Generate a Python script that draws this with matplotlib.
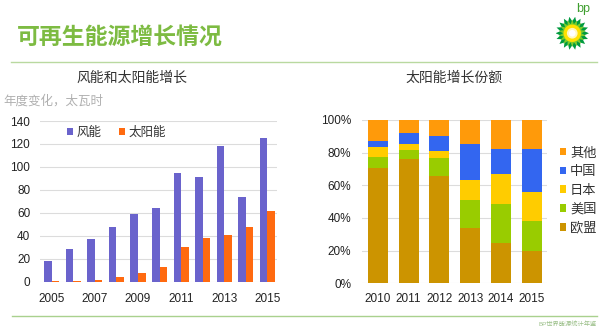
import numpy as np
import matplotlib
matplotlib.use("Agg")
import matplotlib.pyplot as plt
from matplotlib.patches import Polygon, Circle
from matplotlib.ticker import FuncFormatter

plt.rcParams['font.family'] = ['Liberation Sans', 'Noto Sans CJK SC', 'DejaVu Sans']

# ---- data ----
years_left = [2005, 2006, 2007, 2008, 2009, 2010, 2011, 2012, 2013, 2014, 2015]
wind = [18, 28.5, 37.5, 48, 59, 64, 95, 91, 118, 73.5, 125]
solar = [1, 1, 1.5, 4.5, 8, 12.5, 30, 38, 40.5, 48, 62]
left_xticklabels = ['2005', '2007', '2009', '2011', '2013', '2015']

years_right = ['2010', '2011', '2012', '2013', '2014', '2015']
share_eu = [70.5, 76, 65.5, 34, 24.5, 19.5]
share_us = [7, 5.5, 11, 17, 24, 18.5]
share_jp = [6, 4, 4.5, 12, 18.5, 18]
share_cn = [3.5, 6.5, 9.5, 22, 15.5, 26]
share_other = [13, 8, 9.5, 15, 17.5, 18]

W, H = 600, 331
fig = plt.figure(figsize=(6, 3.31), dpi=100)
fig.patch.set_facecolor('white')

def fx(px):
    return px / W

def fy(py):
    return 1 - py / H

# header
fig.text(fx(17), fy(37), '可再生能源增长情况', color='#7dbb42', fontsize=16.5,
         fontweight='bold', va='center', ha='left')
fig.add_artist(plt.Line2D([fx(11), fx(597)], [fy(61.5), fy(61.5)], color='#b9d9a0', lw=1.0))
fig.add_artist(plt.Line2D([fx(12), fx(597)], [fy(315.5), fy(315.5)], color='#a9d18e', lw=1.0))
fig.text(fx(597), fy(324), 'BP世界能源统计年鉴', color='#9cc08a', fontsize=4.5,
         ha='right', va='center')
fig.text(fx(583), fy(9), 'bp', color='#3f9f2f', fontsize=9, ha='center', va='center')

# bp logo
lax = fig.add_axes([fx(555.5), fy(50), fx(33.5), 33.5 / H])
lax.set_xlim(-1, 1)
lax.set_ylim(-1, 1)
lax.axis('off')
n = 18
ang = np.linspace(0, 2 * np.pi, 2 * n, endpoint=False)
r1 = np.where(np.arange(2 * n) % 2 == 0, 1.0, 0.72)
lax.add_patch(Polygon(np.c_[r1 * np.cos(ang), r1 * np.sin(ang)], closed=True, color='#009a3e', lw=0))
ang2 = ang + np.pi / n
r2 = np.where(np.arange(2 * n) % 2 == 0, 0.82, 0.55)
lax.add_patch(Polygon(np.c_[r2 * np.cos(ang2), r2 * np.sin(ang2)], closed=True, color='#7ccc2a', lw=0))
lax.add_patch(Circle((0, 0), 0.52, color='#ffe100', lw=0))
lax.add_patch(Circle((0, 0), 0.32, color='#fff8c0', lw=0))
lax.add_patch(Circle((0, 0), 0.2, color='white', lw=0))

# ---- left chart ----
axL = fig.add_axes([fx(40), fy(281.7), fx(237), 160.7 / H])
x = np.arange(len(years_left))
bw = 0.35
bL1 = axL.bar(x - bw / 2, wind, bw, color='#6a63cc', label='风能', zorder=3)
bL2 = axL.bar(x + bw / 2, solar, bw, color='#ff6a10', label='太阳能', zorder=3)
axL.set_xlim(-0.55, 10.45)
axL.set_ylim(0, 140)
axL.set_yticks(range(0, 141, 20))
axL.set_xticks(x[::2])
axL.set_xticklabels(left_xticklabels)
axL.grid(axis='y', color='#dcdcdc', lw=0.8, zorder=0)
axL.set_axisbelow(True)
for s in axL.spines.values():
    s.set_visible(False)
axL.tick_params(length=0, labelsize=8.5, colors='#222222', pad=7)
axL.tick_params(axis='x', pad=8)
axL.legend(handles=[bL1, bL2], loc='center left', bbox_to_anchor=(fx(67), fy(132.5)),
           bbox_transform=fig.transFigure, ncol=2, frameon=False, fontsize=9,
           borderpad=0, borderaxespad=0, handlelength=0.5, handleheight=0.5,
           handletextpad=0.25, columnspacing=1.4, labelcolor='#333333')
fig.text(fx(131.7), fy(78), '风能和太阳能增长', fontsize=10, color='#333333',
         ha='center', va='center')
fig.text(fx(3), fy(101.5), '年度变化，太瓦时', fontsize=9, color='#b0b0b0',
         ha='left', va='center')

# ---- right chart ----
axR = fig.add_axes([fx(361.7), fy(283.3), fx(185), 163.3 / H])
xr = np.arange(len(years_right))
bwr = 0.65
series = [(share_eu, '欧盟', '#cc9400'), (share_us, '美国', '#99cc00'),
          (share_jp, '日本', '#ffcc00'), (share_cn, '中国', '#3366f0'),
          (share_other, '其他', '#ff9a0a')]
bottom = np.zeros(len(years_right))
handles = []
for vals, name, col in series:
    h = axR.bar(xr, vals, bwr, bottom=bottom, color=col, label=name, zorder=3)
    handles.append(h)
    bottom = bottom + np.array(vals)
axR.set_xlim(-0.52, 5.48)
axR.set_ylim(0, 100)
axR.set_yticks(range(0, 101, 20))
axR.yaxis.set_major_formatter(FuncFormatter(lambda v, p: f'{int(v)}%'))
axR.set_xticks(xr)
axR.set_xticklabels(years_right)
axR.grid(axis='y', color='#dcdcdc', lw=0.8, zorder=0)
axR.set_axisbelow(True)
for s in axR.spines.values():
    s.set_visible(False)
axR.tick_params(length=0, labelsize=8.5, colors='#222222', pad=7.5)
axR.tick_params(axis='x', pad=7)
axR.legend(handles=handles[::-1], loc='center left', bbox_to_anchor=(fx(559.5), fy(191)),
           bbox_transform=fig.transFigure, frameon=False, fontsize=9.5,
           borderpad=0, borderaxespad=0, handlelength=0.5, handleheight=0.5,
           handletextpad=0.3, labelspacing=0.5, labelcolor='#333333')
fig.text(fx(454), fy(78), '太阳能增长份额', fontsize=10, color='#333333',
         ha='center', va='center')

fig.savefig('out.png', dpi=100, facecolor='white')
